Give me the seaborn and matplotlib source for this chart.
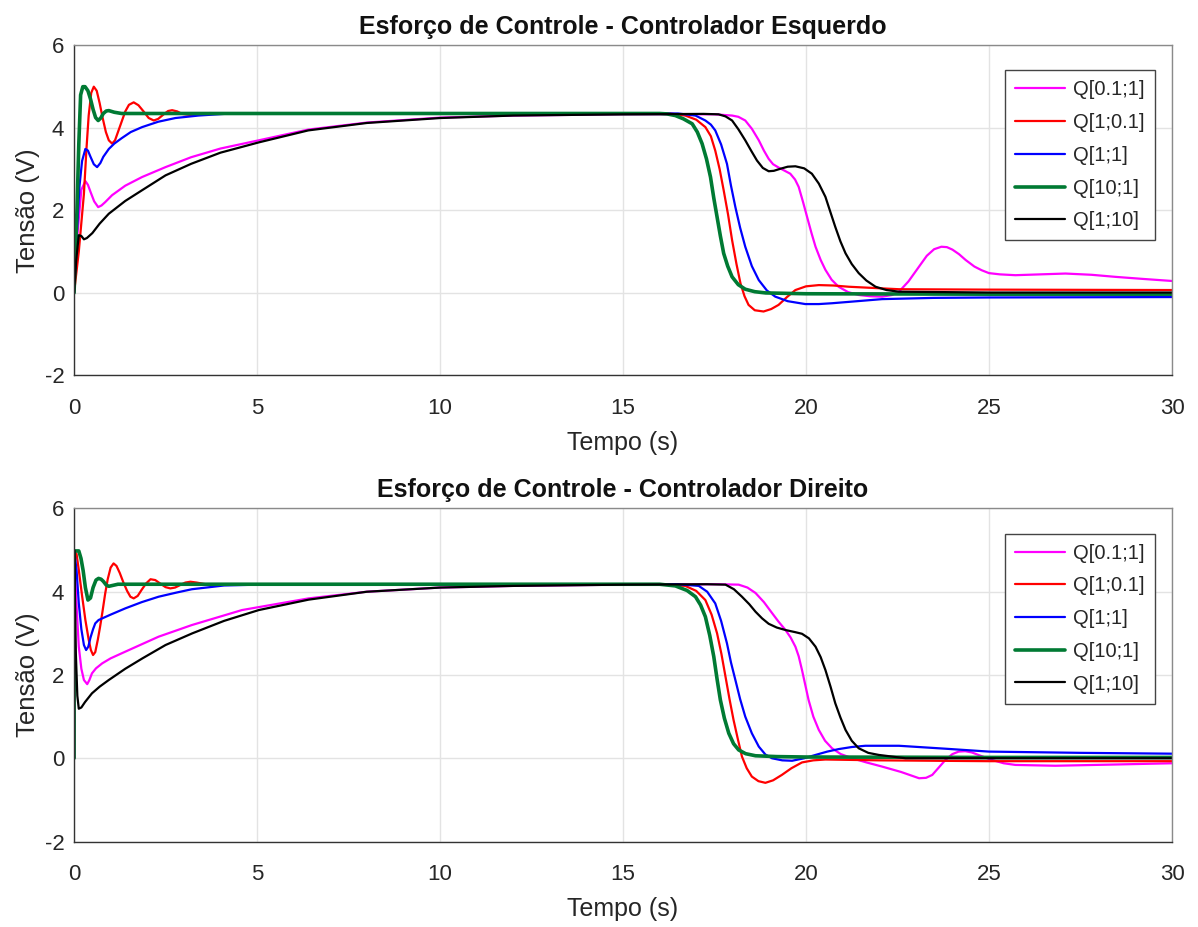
import numpy as np
import pandas as pd
import matplotlib
matplotlib.use("Agg")
import matplotlib.pyplot as plt
import seaborn as sns

# ---------------- data ----------------
labels = ["Q[0.1;1]", "Q[1;0.1]", "Q[1;1]", "Q[10;1]", "Q[1;10]"]
titles = ["Esforço de Controle - Controlador Esquerdo",
          "Esforço de Controle - Controlador Direito"]
x_ticks = [0, 5, 10, 15, 20, 25, 30]
y_ticks = [-2, 0, 2, 4, 6]

# Top: Controlador Esquerdo
top_t_m = [0, 0.1, 0.2, 0.31, 0.38, 0.45, 0.55, 0.66, 0.75, 0.85, 1.04, 1.4, 1.86, 2.5, 3.2, 4.0, 5.05, 6.4, 8,
           10, 12, 15, 17.5, 17.98, 18.15, 18.34, 18.52, 18.71, 18.85, 18.98, 19.1, 19.25, 19.4, 19.57, 19.7,
           19.8, 19.92, 20.03, 20.15, 20.26, 20.4, 20.53, 20.7, 20.89, 21.15, 21.44, 21.75, 22.08, 22.35,
           22.54, 22.8, 23.09, 23.3, 23.5, 23.7, 23.85, 24.0, 24.18, 24.36, 24.6, 24.8, 25.0, 25.3, 25.72,
           26.4, 27.09, 27.8, 28.45, 29.2, 30]
top_y_m = [0, 1.5, 2.5, 2.71, 2.62, 2.45, 2.22, 2.08, 2.12, 2.2, 2.37, 2.6, 2.81, 3.05, 3.29, 3.5, 3.7, 3.96, 4.13,
           4.25, 4.3, 4.33, 4.33, 4.3, 4.27, 4.18, 3.98, 3.7, 3.45, 3.25, 3.12, 3.04, 2.97, 2.89, 2.75,
           2.57, 2.2, 1.84, 1.45, 1.12, 0.8, 0.56, 0.32, 0.15, 0.02, -0.05, -0.08, -0.09, -0.05,
           0.03, 0.28, 0.64, 0.9, 1.06, 1.12, 1.11, 1.05, 0.94, 0.8, 0.64, 0.55, 0.48, 0.45, 0.43,
           0.45, 0.47, 0.44, 0.39, 0.34, 0.29]

top_t_r = [0, 0.13, 0.27, 0.34, 0.4, 0.47, 0.54, 0.62, 0.7, 0.78, 0.87, 0.95, 1.04, 1.12, 1.2, 1.3, 1.4, 1.5,
           1.63, 1.76, 1.9, 2.04, 2.18, 2.3, 2.45, 2.57, 2.68, 2.82, 2.95, 3.2, 3.45, 3.7, 4.5, 10, 16.3,
           16.7, 17.0, 17.25, 17.4, 17.52, 17.64, 17.75, 17.87, 17.98, 18.1, 18.21, 18.32, 18.43, 18.6, 18.84,
           19.05, 19.25, 19.48, 19.71, 20.0, 20.35, 20.75, 21.17, 22.54, 25, 30]
top_y_r = [0, 1.0, 2.4, 3.5, 4.3, 4.85, 5.0, 4.9, 4.6, 4.25, 3.9, 3.7, 3.62, 3.7, 3.9, 4.15, 4.4, 4.56,
           4.62, 4.55, 4.4, 4.24, 4.18, 4.22, 4.33, 4.41, 4.43, 4.4, 4.34, 4.31, 4.34, 4.36, 4.35, 4.35, 4.35,
           4.3, 4.2, 4.02, 3.8, 3.45, 3.0, 2.49, 1.9, 1.28, 0.7, 0.23, -0.08, -0.29, -0.42, -0.45,
           -0.39, -0.29, -0.1, 0.07, 0.16, 0.19, 0.18, 0.15, 0.09, 0.08, 0.07]

top_t_b = [0, 0.08, 0.15, 0.22, 0.31, 0.38, 0.45, 0.54, 0.63, 0.72, 0.8, 0.95, 1.1, 1.3, 1.55, 1.86, 2.3, 2.77,
           3.4, 4.1, 5, 10, 16.5, 16.98, 17.25, 17.4, 17.52, 17.68, 17.84, 17.95, 18.07, 18.2, 18.34, 18.52,
           18.71, 18.93, 19.16, 19.5, 19.98, 20.35, 20.71, 21.4, 22.08, 23.5, 25, 30]
top_y_b = [0, 1.5, 2.6, 3.2, 3.49, 3.45, 3.3, 3.12, 3.05, 3.15, 3.3, 3.49, 3.62, 3.75, 3.9, 4.02, 4.15, 4.24,
           4.3, 4.34, 4.35, 4.35, 4.35, 4.3, 4.18, 4.08, 3.94, 3.6, 3.13, 2.6, 2.08, 1.58, 1.12, 0.65,
           0.31, 0.06, -0.09, -0.2, -0.27, -0.27, -0.25, -0.2, -0.15, -0.12, -0.11, -0.1]

top_t_g = [0, 0.04, 0.08, 0.13, 0.18, 0.24, 0.3, 0.38, 0.45, 0.52, 0.59, 0.66, 0.73, 0.8, 0.88, 0.95, 1.1, 1.3,
           10, 16.0, 16.2, 16.43, 16.65, 16.89, 17.03, 17.16, 17.28, 17.39, 17.48, 17.57, 17.66, 17.75, 17.86,
           17.98, 18.15, 18.34, 18.6, 18.9, 20, 25, 30]
top_y_g = [0, 1.0, 2.0, 3.6, 4.8, 5.0, 5.0, 4.9, 4.7, 4.45, 4.25, 4.18, 4.24, 4.35, 4.41, 4.42, 4.38, 4.35,
           4.35, 4.35, 4.34, 4.3, 4.22, 4.1, 3.9, 3.62, 3.25, 2.81, 2.3, 1.84, 1.38, 0.96, 0.65,
           0.39, 0.2, 0.09, 0.03, 0.0, -0.02, -0.03, -0.03]

top_t_k = [0, 0.06, 0.13, 0.2, 0.27, 0.35, 0.5, 0.7, 0.95, 1.4, 1.86, 2.5, 3.2, 4.0, 5.05, 6.4, 8, 10, 12, 15,
           17.2, 17.61, 17.8, 17.98, 18.15, 18.34, 18.5, 18.66, 18.82, 18.98, 19.12, 19.3, 19.5, 19.71, 19.95,
           20.16, 20.35, 20.53, 20.67, 20.8, 20.94, 21.08, 21.25, 21.44, 21.65, 21.9, 22.2, 22.54, 25, 30]
top_y_k = [0, 0.8, 1.4, 1.38, 1.3, 1.33, 1.45, 1.68, 1.92, 2.23, 2.49, 2.85, 3.13, 3.4, 3.65, 3.94, 4.12, 4.24,
           4.3, 4.33, 4.34, 4.33, 4.28, 4.18, 3.97, 3.7, 3.45, 3.21, 3.03, 2.95, 2.96, 3.01, 3.06, 3.07, 3.02,
           2.89, 2.65, 2.33, 1.95, 1.6, 1.25, 0.96, 0.7, 0.48, 0.3, 0.15, 0.07, 0.03, 0.01, 0.01]

# Bottom: Controlador Direito
bot_t_m = [0, 0.005, 0.06, 0.13, 0.2, 0.27, 0.36, 0.42, 0.49, 0.6, 0.77, 1.0, 1.4, 2.31, 3.22, 4.59, 6.41, 8,
           10, 12, 15, 17.6, 18.16, 18.4, 18.62, 18.85, 19.07, 19.25, 19.44, 19.58, 19.71, 19.8, 19.89, 19.98,
           20.07, 20.2, 20.35, 20.52, 20.71, 20.95, 21.26, 21.65, 22.08, 22.6, 23.09, 23.28, 23.45, 23.63,
           23.81, 24.0, 24.17, 24.35, 24.53, 24.8, 25.08, 25.4, 25.72, 26.81, 28.45, 30]
bot_y_m = [0, 5.0, 3.8, 2.68, 2.15, 1.88, 1.78, 1.88, 2.04, 2.16, 2.28, 2.4, 2.56, 2.92, 3.2, 3.56, 3.84, 4.0,
           4.1, 4.14, 4.17, 4.18, 4.17, 4.1, 3.97, 3.75, 3.49, 3.28, 3.08, 2.9, 2.68, 2.45, 2.12, 1.76,
           1.4, 1.0, 0.68, 0.42, 0.24, 0.1, 0.0, -0.1, -0.2, -0.33, -0.48, -0.47, -0.4, -0.22,
           -0.04, 0.1, 0.16, 0.17, 0.14, 0.05, -0.04, -0.12, -0.16, -0.18, -0.15, -0.12]

bot_t_r = [0, 0.005, 0.07, 0.13, 0.22, 0.31, 0.4, 0.46, 0.52, 0.58, 0.65, 0.71, 0.77, 0.85, 0.92, 1.0, 1.08,
           1.16, 1.25, 1.35, 1.45, 1.54, 1.63, 1.74, 1.85, 1.97, 2.09, 2.22, 2.35, 2.5, 2.63, 2.76, 2.9, 3.04,
           3.18, 3.35, 3.6, 10, 16.0, 16.7, 17.0, 17.25, 17.42, 17.57, 17.69, 17.8, 17.91, 18.02, 18.14, 18.25,
           18.38, 18.52, 18.7, 18.89, 19.1, 19.34, 19.6, 19.89, 20.2, 20.53, 22, 25, 30]
bot_y_r = [0, 5.0, 4.9, 4.52, 3.9, 3.32, 2.85, 2.6, 2.48, 2.55, 2.85, 3.15, 3.48, 3.95, 4.3, 4.58, 4.68,
           4.62, 4.45, 4.22, 4.02, 3.88, 3.84, 3.9, 4.05, 4.2, 4.3, 4.28, 4.2, 4.11, 4.08, 4.1, 4.16, 4.22,
           4.24, 4.22, 4.18, 4.18, 4.18, 4.14, 4.02, 3.8, 3.45, 3.0, 2.5, 1.96, 1.42, 0.92, 0.45, 0.04,
           -0.24, -0.44, -0.55, -0.59, -0.53, -0.4, -0.24, -0.1, -0.05, -0.03, -0.05, -0.07, -0.07]

bot_t_b = [0, 0.005, 0.07, 0.13, 0.2, 0.27, 0.33, 0.39, 0.45, 0.52, 0.58, 0.67, 0.77, 1.0, 1.4, 1.85, 2.31, 2.8,
           3.22, 4.1, 5.5, 10, 16.5, 17.07, 17.3, 17.52, 17.68, 17.84, 17.95, 18.07, 18.2, 18.34, 18.52, 18.71,
           18.89, 19.07, 19.35, 19.62, 19.95, 20.26, 20.58, 20.89, 21.25, 21.62, 22.54, 23.8, 25, 27.5, 30]
bot_y_b = [0, 5.0, 4.5, 3.72, 3.1, 2.72, 2.6, 2.68, 2.9, 3.1, 3.24, 3.32, 3.36, 3.45, 3.6, 3.75, 3.88, 3.98,
           4.06, 4.15, 4.18, 4.18, 4.18, 4.14, 4.0, 3.72, 3.3, 2.76, 2.3, 1.88, 1.42, 1.0, 0.6, 0.28,
           0.09, 0.0, -0.05, -0.06, 0.0, 0.08, 0.16, 0.22, 0.27, 0.3, 0.3, 0.23, 0.16, 0.13, 0.11]

bot_t_g = [0, 0.005, 0.13, 0.19, 0.25, 0.31, 0.38, 0.45, 0.52, 0.6, 0.67, 0.74, 0.8, 0.88, 0.95, 1.05, 1.2, 10,
           16.0, 16.43, 16.75, 16.98, 17.12, 17.25, 17.37, 17.48, 17.57, 17.66, 17.77, 17.89, 18.02, 18.16,
           18.35, 18.62, 19.2, 20, 25, 30]
bot_y_g = [0, 4.98, 4.98, 4.8, 4.5, 4.1, 3.8, 3.85, 4.1, 4.28, 4.32, 4.3, 4.25, 4.16, 4.13, 4.15, 4.18, 4.18,
           4.18, 4.14, 4.03, 3.88, 3.68, 3.4, 2.95, 2.44, 1.9, 1.4, 0.96, 0.6, 0.35, 0.2,
           0.11, 0.06, 0.04, 0.03, 0.02, 0.02]

bot_t_k = [0, 0.005, 0.05, 0.09, 0.13, 0.2, 0.3, 0.49, 0.7, 0.95, 1.4, 1.87, 2.5, 3.23, 4.1, 5.05, 6.41, 8, 10,
           12, 15, 17.3, 17.8, 18.03, 18.25, 18.45, 18.62, 18.8, 18.98, 19.2, 19.44, 19.7, 19.89, 20.08, 20.26,
           20.4, 20.53, 20.67, 20.8, 20.94, 21.08, 21.25, 21.44, 21.7, 21.99, 22.72, 30]
bot_y_k = [0, 5.0, 2.5, 1.5, 1.19, 1.22, 1.35, 1.56, 1.72, 1.88, 2.15, 2.4, 2.72, 3.0, 3.3, 3.56, 3.81, 4.0, 4.1,
           4.14, 4.17, 4.18, 4.17, 4.06, 3.88, 3.7, 3.52, 3.36, 3.23, 3.14, 3.08, 3.03, 2.99, 2.88, 2.68,
           2.43, 2.12, 1.72, 1.32, 0.98, 0.68, 0.42, 0.24, 0.13, 0.08, 0.0, 0.0]

# ---------------- style ----------------
colors = ["#ff00ff", "#ff0000", "#0000ff", "#007a33", "#000000"]
widths = [1.6, 1.6, 1.6, 2.6, 1.6]

sns.set_theme(style="whitegrid")
plt.rcParams['font.family'] = ['Liberation Sans', 'DejaVu Sans']
plt.rcParams['lines.solid_joinstyle'] = 'round'

fig = plt.figure(figsize=(11.98, 9.27), dpi=100)
ax_top = fig.add_axes([0.0618, 0.595, 0.9165, 0.356])
ax_bot = fig.add_axes([0.0618, 0.0922, 0.9165, 0.3593])

panels = [
    (ax_top, [(top_t_m, top_y_m), (top_t_r, top_y_r), (top_t_b, top_y_b), (top_t_g, top_y_g), (top_t_k, top_y_k)]),
    (ax_bot, [(bot_t_m, bot_y_m), (bot_t_r, bot_y_r), (bot_t_b, bot_y_b), (bot_t_g, bot_y_g), (bot_t_k, bot_y_k)]),
]

for (ax, series), title in zip(panels, titles):
    for (t, y), lab, c, w in zip(series, labels, colors, widths):
        df = pd.DataFrame({"t": t, "y": y})
        sns.lineplot(data=df, x="t", y="y", ax=ax, color=c, linewidth=w, label=lab,
                     estimator=None, sort=False)
    ax.set_xlim(0, 30)
    ax.set_ylim(-2, 6)
    ax.set_xticks(x_ticks)
    ax.set_yticks(y_ticks)
    ax.set_xticklabels([str(v) for v in x_ticks])
    ax.set_yticklabels([str(v) for v in y_ticks])
    ax.grid(True, color="#e3e3e3", linewidth=1.0)
    ax.set_facecolor("white")
    for s in ax.spines.values():
        s.set_color("#8a8a8a")
        s.set_linewidth(1.0)
    ax.spines["left"].set_color("#333333")
    ax.spines["bottom"].set_color("#333333")
    ax.tick_params(axis="both", which="major", direction="in", length=8, width=1.0,
                   color="#262626", labelsize=16, labelcolor="#262626")
    ax.tick_params(axis="x", pad=16)
    ax.tick_params(axis="y", pad=7)
    ax.set_title(title, fontsize=18, fontweight="bold", color="#111111", pad=8)
    ax.set_xlabel("Tempo (s)", fontsize=18, color="#262626", labelpad=9)
    ax.set_ylabel("Tensão (V)", fontsize=18.5, color="#262626", labelpad=3)
    leg = ax.legend(loc="upper right", bbox_to_anchor=(1 - 17 / 1098, 1 - 25 / 330),
                    borderaxespad=0, fontsize=14.5, handlelength=2.5, handletextpad=0.4,
                    labelspacing=0.68, frameon=True, fancybox=False, borderpad=0.5)
    leg.get_frame().set_edgecolor("#444444")
    leg.get_frame().set_linewidth(1.0)
    leg.get_frame().set_alpha(1.0)

fig.savefig("out.png", dpi=100, facecolor="white")
